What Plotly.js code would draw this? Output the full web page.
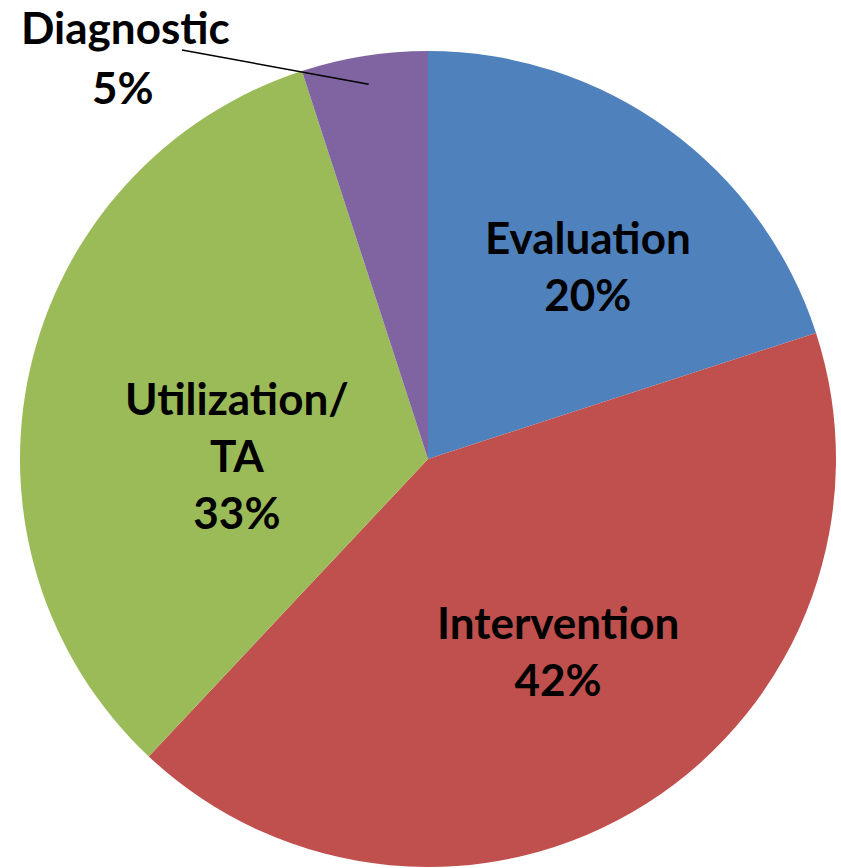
<!DOCTYPE html>
<html>
<head>
<meta charset="utf-8">
<script src="https://cdn.plot.ly/plotly-3.0.1.min.js"></script>
<style>html,body{margin:0;padding:0;background:#fff;overflow:hidden}#chart{width:841px;height:868px}</style>
</head>
<body>
<div id="chart"></div>
<script>
const categories = ["Evaluation", "Intervention", "Utilization/TA", "Diagnostic"];
const displayLabels = ["Evaluation", "Intervention", "Utilization/<br>TA", "Diagnostic"];
const values = [20, 42, 33, 5];
const colors = ["#4F81BD", "#C0504D", "#9BBB59", "#8064A2"];

const W = 841, H = 868;
const cx = 428, cy = 459, R = 408;
const font = {family: "Lato, 'Open Sans', sans-serif", size: 44, color: "#000", weight: "bold"};

const total = values.reduce((a, b) => a + b, 0);
const pct = values.map(v => Math.round(v / total * 100) + "%");
let cum = 0;
const mids = values.map(v => { const m = (cum + v / 2) / total * 2 * Math.PI; cum += v; return m; });
const dIdx = 3;
const lx = cx + 0.93 * R * Math.sin(mids[dIdx]);
const ly = cy - 0.93 * R * Math.cos(mids[dIdx]);

// label block centres (pixels) for the inside labels
const labelPos = [[588, 266], [558, 650], [237, 455]];

const trace = {
  type: "pie",
  labels: categories,
  values: values,
  sort: false,
  direction: "clockwise",
  rotation: 0,
  marker: {colors: colors, line: {width: 0}},
  textinfo: "none",
  hoverinfo: "label+percent",
  domain: {x: [(cx - R) / W, (cx + R) / W], y: [(H - cy - R) / H, (H - cy + R) / H]},
  showlegend: false
};

const annotations = labelPos.map((p, i) => ({
  xref: "paper", yref: "paper",
  x: p[0] / W, y: 1 - p[1] / H,
  text: displayLabels[i] + "<br>" + pct[i],
  showarrow: false, font: font, xanchor: "center", yanchor: "middle", align: "center"
}));
annotations.push({
  xref: "paper", yref: "paper",
  x: 125 / W, y: 1 - 27 / H,
  text: displayLabels[dIdx],
  showarrow: false, font: font, xanchor: "center", yanchor: "middle"
}, {
  xref: "paper", yref: "paper",
  x: 123 / W, y: 1 - 87 / H,
  text: pct[dIdx],
  showarrow: false, font: font, xanchor: "center", yanchor: "middle"
});

const layout = {
  width: W, height: H,
  margin: {l: 0, r: 0, t: 0, b: 0},
  paper_bgcolor: "#fff",
  showlegend: false,
  annotations: annotations,
  shapes: [{
    type: "line", xref: "paper", yref: "paper",
    x0: 182 / W, y0: 1 - 50 / H, x1: lx / W, y1: 1 - ly / H,
    line: {color: "#000", width: 1.5}
  }]
};

Plotly.newPlot("chart", [trace], layout, {displayModeBar: false, staticPlot: true});
</script>
</body>
</html>
